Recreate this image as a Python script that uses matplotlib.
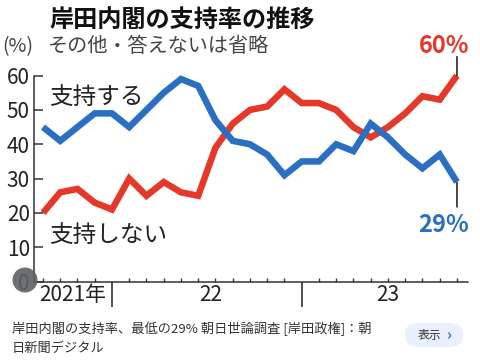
import matplotlib
matplotlib.use('Agg')
import matplotlib.pyplot as plt
from matplotlib.patches import Ellipse, FancyBboxPatch
import numpy as np

plt.rcParams['font.family'] = ['Noto Sans CJK JP', 'DejaVu Sans']

# 朝日新聞 世論調査 (岸田内閣) 各回の値 (%)
shiji = [45, 41, 45, 49, 49, 45, 50, 55, 59, 57, 47, 41, 40, 37, 31,
         35, 35, 40, 38, 46, 42, 37, 33, 37, 29]
fushiji = [20, 26, 27, 23, 21, 30, 25, 29, 26, 25, 39, 46, 50, 51, 56,
           52, 52, 50, 45, 42, 45, 49, 54, 53, 60]
nen_kugiri = [4, 15]
nen_labels = ['2021年', '22', '23']
nen_pos = [1.7, 9.7, 20.0]
yticks = [0, 10, 20, 30, 40, 50, 60]

AKA = '#e53828'
AO = '#2a6fc2'
KURO = '#333333'

W, H = 480, 360
fig = plt.figure(figsize=(4.8, 3.6), dpi=100)
ax = fig.add_axes([34 / W, 1 - 281.6 / H, 434 / W, 206 / H])

x = np.arange(len(shiji))
ax.plot(x, fushiji, color=AKA, lw=4.7, solid_joinstyle='miter',
        solid_capstyle='butt', clip_on=False, zorder=3)
ax.plot(x, shiji, color=AO, lw=4.7, solid_joinstyle='miter',
        solid_capstyle='butt', clip_on=False, zorder=4)

ax.set_xlim(-0.52, 24.64)
ax.set_ylim(0, 60)

for s in ['top', 'right']:
    ax.spines[s].set_visible(False)
for s in ['left', 'bottom']:
    ax.spines[s].set_color(KURO)
    ax.spines[s].set_linewidth(1.1)

ax.set_yticks(yticks)
ax.tick_params(axis='y', direction='in', length=6.5, width=1.1, color=KURO,
               labelsize=15, pad=3, labelcolor='#222222')

ax.set_xticks(nen_kugiri)
ax.set_xticklabels([])
ax.tick_params(axis='x', which='major', direction='out', length=18,
               width=1.2, color=KURO)
ax.set_xticks(x, minor=True)
ax.tick_params(axis='x', which='minor', direction='in', length=3,
               width=1, color=KURO)

for lab, p in zip(nen_labels, nen_pos):
    ax.text(p, -0.065, lab, transform=ax.get_xaxis_transform(),
            ha='center', va='center', fontsize=15, color='#222222')

# 系列ラベル
ax.text(0.33, 53.5, '支持する', fontsize=17, color='#222222', va='center')
ax.text(0.33, 13.5, '支持しない', fontsize=17, color='#222222', va='center')

# 最新値と引き出し線
ax.annotate('', xy=(x[-1], fushiji[-1]), xytext=(0, 19),
            textcoords='offset pixels', annotation_clip=False,
            arrowprops=dict(arrowstyle='-', color='black', lw=1,
                            shrinkA=0, shrinkB=0))
ax.annotate(f'{fushiji[-1]}%', xy=(x[-1], fushiji[-1]),
            xytext=(-13, 30), textcoords='offset pixels',
            ha='center', va='center', fontsize=17, fontweight='bold',
            color=AKA, annotation_clip=False)
ax.annotate('', xy=(x[-1], shiji[-1]), xytext=(0, -25),
            textcoords='offset pixels', annotation_clip=False,
            arrowprops=dict(arrowstyle='-', color='black', lw=1,
                            shrinkA=0, shrinkB=0))
ax.annotate(f'{shiji[-1]}%', xy=(x[-1], shiji[-1]),
            xytext=(-13, -43), textcoords='offset pixels',
            ha='center', va='center', fontsize=17, fontweight='bold',
            color=AO, annotation_clip=False)

# タイトル
fig.text(50 / W, 1 - 20 / H, '岸田内閣の支持率の推移', fontsize=17.4,
         fontweight='bold', color='#111111', va='center')
fig.text(2 / W, 1 - 47 / H, '(%)', fontsize=14, color='#444444', va='center')
fig.text(48 / W, 1 - 47 / H, 'その他・答えないは省略', fontsize=14.5,
         color='#444444', va='center')

# 下のキャプション
fig.text(12 / W, 1 - 329 / H, '岸田内閣の支持率、最低の29% 朝日世論調査 [岸田政権]：朝',
         fontsize=9.5, color='#333333', va='center')
fig.text(12 / W, 1 - 348 / H, '日新聞デジタル', fontsize=9.5,
         color='#333333', va='center')
btn = FancyBboxPatch((405 / W, 1 - 347 / H), 58 / W, 24 / H,
                     boxstyle='round,pad=0,rounding_size=0.03',
                     transform=fig.transFigure, facecolor='#e8f0fe',
                     edgecolor='none')
fig.patches.append(btn)
fig.text(418 / W, 1 - 335 / H, '表示', fontsize=8.5, color='#333333',
         va='center')
fig.text(446 / W, 1 - 335 / H, '›', fontsize=11, color=AO, va='center',
         fontweight='bold')

# レンズのアイコン
fig.patches.append(Ellipse((25 / W, 1 - 280 / H), 25 / W, 25 / H,
                           transform=fig.transFigure, facecolor='#5f6063',
                           edgecolor='none', alpha=0.9, zorder=10))

fig.savefig('out.png', dpi=100, facecolor='white')
